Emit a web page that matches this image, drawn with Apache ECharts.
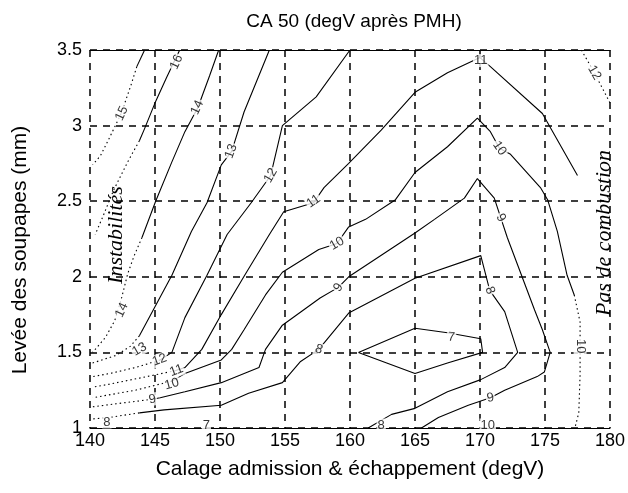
<!DOCTYPE html>
<html><head><meta charset="utf-8">
<script src="https://cdn.jsdelivr.net/npm/echarts@6/dist/echarts.min.js"></script>
<style>html,body{margin:0;padding:0;background:#fff}#c{width:628px;height:493px}</style>
</head><body><div id="c"></div>
<script>
// ---- axes ----
const X_TICKS = [140,145,150,155,160,165,170,175,180];
const Y_TICKS = [1,1.5,2,2.5,3,3.5];
const TITLE = 'CA 50 (degV après PMH)';
const X_NAME = 'Calage admission & échappement (degV)';
const Y_NAME = 'Levée des soupapes (mm)';

// ---- contour lines (x = calage degV, y = levée mm) ----
const c15 = [[144.2,3.5],[143.6,3.39]];
const c15dot = [[143.6,3.39],[143.2,3.28],[142.4,3.08],[141.5,2.92],[140.8,2.80],[140.2,2.74]];
const c16 = [[146.9,3.5],[145.9,3.32],[145.05,3.16],[144.2,2.98],[143.8,2.9]];
const c16dot = [[143.8,2.9],[142.9,2.76],[141.8,2.57],[141.0,2.40],[140.4,2.28]];
const c14 = [[149.9,3.5],[149.2,3.33],[148.3,3.12],[147.3,2.96],[146.3,2.76],[145.05,2.5],[144.0,2.26]];
const c14dot = [[144.0,2.26],[143.4,2.14],[142.9,2.02],[142.4,1.85],[141.9,1.71],[141.2,1.6],[140.2,1.5]];
const c13 = [[153.8,3.5],[151.85,3.09],[150.9,2.83],[150.1,2.74],[149.0,2.49],[147.8,2.30],[146.3,2.01],[145.05,1.81],[143.8,1.61]];
const c13dot = [[143.8,1.61],[143.1,1.54],[142.0,1.48],[140.2,1.43]];
const c12 = [[160.0,3.5],[157.4,3.19],[154.8,3.0],[153.9,2.67],[152.4,2.49],[150.55,2.28],[149.0,2.01],[147.3,1.73],[146.3,1.5],[145.4,1.45]];
const c12dot = [[145.4,1.45],[143.5,1.40],[141.5,1.36],[140.2,1.34]];
const c11 = [[177.5,2.67],[174.8,3.08],[170.8,3.39],[170.0,3.45],[167.5,3.35],[165.0,3.22],[162.4,2.97],[159.9,2.75],[158.0,2.59],[157.2,2.49],[154.9,2.43],[153.8,2.28],[151.9,2.01],[150.1,1.75],[148.6,1.52],[147.3,1.40],[146.6,1.38]];
const c11dot = [[146.6,1.38],[143.8,1.33],[141.5,1.29],[140.2,1.27]];
const c10 = [[177.25,1.88],[176.7,2.01],[175.95,2.30],[175.2,2.51],[174.65,2.59],[172.35,2.81],[171.5,2.85],[170.8,2.96],[169.8,3.05],[167.5,2.86],[165.0,2.69],[163.5,2.51],[161.2,2.38],[159.9,2.33],[159.0,2.22],[157.6,2.18],[154.8,2.03],[153.5,1.88],[151.85,1.65],[150.9,1.52],[150.1,1.45],[147.3,1.36],[146.3,1.31]];
const c10dot = [[146.3,1.31],[143.5,1.25],[140.2,1.2]];
const c10rdot = [[177.25,1.88],[177.7,1.70],[177.7,1.35],[177.6,1.1],[177.3,1.0]];
const c9 = [[144.8,1.19],[145.4,1.20],[147.3,1.24],[150.1,1.30],[153.0,1.40],[153.5,1.52],[154.8,1.68],[157.7,1.86],[159.1,1.93],[159.9,2.0],[165.0,2.29],[166.5,2.38],[168.8,2.52],[169.8,2.65],[171.1,2.52],[171.6,2.39],[172.1,2.26],[174.2,1.78],[174.8,1.65],[175.4,1.5],[174.95,1.37],[174.4,1.34],[171.9,1.25],[170.8,1.20],[169.1,1.15],[166.8,1.07],[165.5,1.0]];
const c9dot = [[144.8,1.19],[142.0,1.16],[140.2,1.14]];
const c8 = [[143.8,1.10],[145.7,1.12],[150.1,1.15],[152.2,1.23],[154.8,1.30],[156.2,1.44],[157.6,1.52],[159.9,1.76],[165.0,1.99],[170.06,2.14],[170.75,1.91],[171.9,1.77],[172.9,1.5],[171.9,1.40],[170.06,1.32],[167.5,1.24],[165.0,1.13],[163.2,1.09],[161.4,1.0]];
const c8dot = [[143.8,1.10],[141.5,1.07],[140.2,1.06]];
const c7 = [[160.65,1.50],[165.0,1.66],[167.5,1.63],[170.06,1.59],[170.2,1.50],[167.5,1.43],[165.0,1.36],[160.65,1.50]];
const c12rdot = [[177.8,3.5],[178.6,3.38],[179.4,3.25],[180,3.15]];

// ---- contour labels: [x, y, text] ----
const labelPos = [
  [142.45,3.08,'15'],[146.65,3.42,'16'],[148.26,3.12,'14'],[150.86,2.83,'13'],[153.9,2.67,'12'],
  [157.2,2.50,'11'],[159.0,2.22,'10'],[159.1,1.93,'9'],[157.6,1.52,'8'],
  [170.06,3.43,'11'],[171.5,2.85,'10'],[171.6,2.39,'9'],[170.75,1.91,'8'],[167.8,1.60,'7'],
  [170.8,1.20,'9'],[170.6,1.02,'10'],[177.7,1.54,'10'],[178.8,3.35,'12'],[142.45,1.78,'14'],
  [143.8,1.52,'13'],[145.35,1.45,'12'],[146.65,1.38,'11'],[146.3,1.29,'10'],[144.8,1.19,'9'],
  [141.3,1.04,'8'],[148.95,1.02,'7'],[162.4,1.02,'8']
];
const labelAngles = [65,65,65,70,60, 35,30,55,-20, 0,-55,-60,-70,-5, 10,0,-90,-60,65, 30,20,20,15,10, 0,0,0];

const solidLines = [c15,c16,c14,c13,c12,c11,c10,c9,c8,c7];
const dottedLines = [c15dot,c16dot,c14dot,c13dot,c12dot,c11dot,c10dot,c10rdot,c9dot,c8dot,c12rdot];

const chart = echarts.init(document.getElementById('c'), null, {renderer:'canvas'});
const FONT = 'Liberation Sans, Arial, sans-serif';
const series = [];
solidLines.forEach(d => series.push({type:'line', data:d, showSymbol:false, symbol:'none', silent:true, animation:false,
  lineStyle:{color:'#000', width:1.1}, z:3}));
dottedLines.forEach(d => series.push({type:'line', data:d, showSymbol:false, symbol:'none', silent:true, animation:false,
  lineStyle:{color:'#000', width:1.1, type:[1.5,3]}, z:3}));
series.push({type:'scatter', symbolSize:1, itemStyle:{color:'rgba(0,0,0,0)'}, animation:false, z:5,
  data: labelPos.map((l,i)=>({value:[l[0],l[1]], label:{show:true, formatter:l[2], rotate:labelAngles[i], position:'inside',
    color:'#000', fontSize:13, fontFamily:FONT, backgroundColor:'#fff', padding:[0,1]}}))});

chart.setOption({
  animation:false,
  backgroundColor:'#fff',
  grid:{left:90, right:15, top:50, bottom:65, containLabel:false},
  xAxis:[{
    type:'value', min:X_TICKS[0], max:X_TICKS[X_TICKS.length-1], interval:X_TICKS[1]-X_TICKS[0], position:'bottom',
    axisLine:{show:true, onZero:false, lineStyle:{color:'#000', width:1}},
    axisTick:{show:false},
    axisLabel:{color:'#000', fontSize:18, fontFamily:FONT, margin:4},
    splitLine:{show:true, lineStyle:{color:'#000', width:1.5, type:[7,6]}},
    name:X_NAME, nameLocation:'middle', nameGap:31,
    nameTextStyle:{color:'#000', fontSize:21, fontFamily:FONT}
  },{
    type:'value', min:X_TICKS[0], max:X_TICKS[X_TICKS.length-1], position:'top',
    axisLine:{show:true, onZero:false, lineStyle:{color:'#000', width:1}},
    axisTick:{show:false}, axisLabel:{show:false}, splitLine:{show:false}
  }],
  yAxis:{
    type:'value', min:Y_TICKS[0], max:Y_TICKS[Y_TICKS.length-1], interval:Y_TICKS[1]-Y_TICKS[0],
    axisLine:{show:false}, axisTick:{show:false},
    axisLabel:{color:'#000', fontSize:18, fontFamily:FONT, margin:8},
    splitLine:{show:true, lineStyle:{color:'#000', width:1.5, type:[7,6]}}
  },
  graphic:[
    {type:'text', x:354, y:22, style:{text:TITLE, fill:'#000', font:'19px '+FONT, textAlign:'center', textVerticalAlign:'middle', align:'center', verticalAlign:'middle'}},
    {type:'text', x:20, y:250, rotation:Math.PI/2, style:{text:Y_NAME, fill:'#000', font:'21px '+FONT, textAlign:'center', textVerticalAlign:'middle', align:'center', verticalAlign:'middle'}},
    {type:'text', x:116, y:235, rotation:Math.PI/2, z:10, style:{text:'Instabilités', fill:'#000', font:'italic 22px Liberation Serif, serif', textAlign:'center', textVerticalAlign:'middle', align:'center', verticalAlign:'middle'}},
    {type:'text', x:604, y:233, rotation:Math.PI/2, z:10, style:{text:'Pas de combustion', fill:'#000', font:'italic 22px Liberation Serif, serif', textAlign:'center', textVerticalAlign:'middle', align:'center', verticalAlign:'middle'}}
  ],
  series: series
});
</script>
</body></html>
